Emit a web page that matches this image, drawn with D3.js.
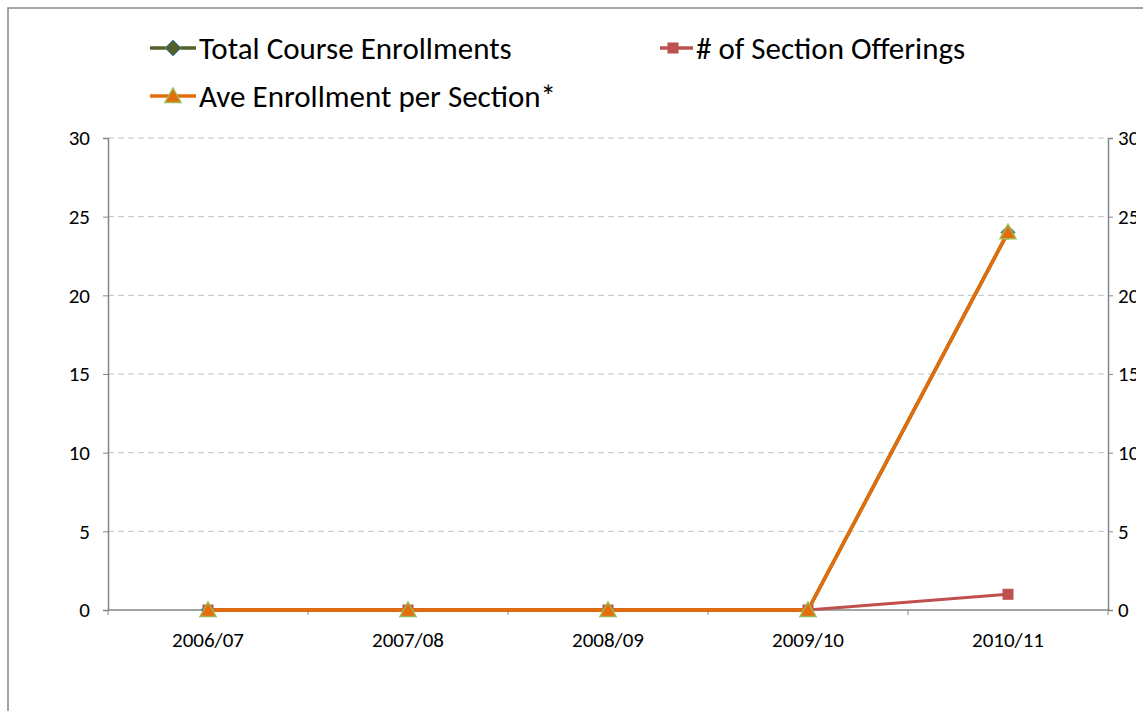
<!DOCTYPE html>
<html><head><meta charset="utf-8">
<script src="https://cdn.jsdelivr.net/npm/d3@7"></script>
<style>body{margin:0;background:#fff}svg{display:block}text{font-family:Carlito,Calibri,Lato,"Open Sans",sans-serif}</style>
</head><body><svg id="c" width="1143" height="711"></svg>
<script>
const categories = ["2006/07","2007/08","2008/09","2009/10","2010/11"];
const totalEnrollments = [0,0,0,0,24];
const sectionOfferings = [0,0,0,0,1];
const aveEnrollment = [0,0,0,0,24];
const yTicks = [0,5,10,15,20,25,30];
const seriesNames = ["Total Course Enrollments","# of Section Offerings","Ave Enrollment per Section*"];

const FONT = "Carlito,Calibri,Lato,'Open Sans',sans-serif";
const svg = d3.select("#c");
const m = {l:108, r:1108, t:138, b:610};
svg.append("defs").append("clipPath").attr("id","rclip").attr("clipPathUnits","userSpaceOnUse").append("rect")
  .attr("x",0).attr("y",0).attr("width",1136).attr("height",711);
svg.append("rect").attr("x",8).attr("y",8).attr("width",1300).attr("height",900)
  .attr("fill","none").attr("stroke","#868686").attr("stroke-width",1.5);

const x = d3.scaleBand().domain(categories).range([m.l,m.r]);
const y = d3.scaleLinear().domain([0,30]).range([m.b,m.t]);
const y2 = d3.scaleLinear().domain([0,30]).range([m.b,m.t]);
const cx = d => x(d)+x.bandwidth()/2;

svg.append("g").selectAll("line").data(yTicks.filter(d=>d>0)).join("line")
  .attr("x1",m.l).attr("x2",m.r).attr("y1",d=>y(d)).attr("y2",d=>y(d))
  .attr("stroke","#c0c0c0").attr("stroke-dasharray","6,4").attr("stroke-width",1);

const gl = svg.append("g").attr("transform",`translate(${m.l},0)`)
  .call(d3.axisLeft(y).tickValues(yTicks).tickSize(5).tickPadding(13));
const gr = svg.append("g").attr("clip-path","url(#rclip)").append("g").attr("transform",`translate(${m.r},0)`)
  .call(d3.axisRight(y2).tickValues(yTicks).tickSize(5).tickPadding(5));
const gb = svg.append("g").attr("transform",`translate(0,${m.b})`)
  .call(d3.axisBottom(x).tickSize(0).tickPadding(0));
gb.selectAll(".tick line").remove();
gb.selectAll(".tick text").attr("y",37).attr("dy",0);
const bt = categories.map(c=>x(c)).concat([m.r]);
gb.selectAll("line.bt").data(bt).join("line").attr("class","bt")
  .attr("x1",d=>d).attr("x2",d=>d).attr("y1",0).attr("y2",5).attr("stroke","#868686");
[gl,gr,gb].forEach(g=>{
  g.attr("font-size",null).attr("font-family",null);
  g.selectAll(".domain").attr("stroke","#868686").attr("stroke-width",1.5);
  g.selectAll(".tick line").attr("stroke","#868686");
  g.selectAll("text").attr("fill","#000").style("font-size","21px").style("font-family",FONT);
});
gb.select(".domain").attr("d",`M${m.l},0H${m.r}`);

const line = d3.line().x((d,i)=>cx(categories[i])).y(d=>y(d));
function diamond(g,px,py,s){g.append("path").attr("d",`M${px},${py-s}L${px+s},${py}L${px},${py+s}L${px-s},${py}Z`)
  .attr("fill","#4f6228").attr("stroke","#4a7ebb").attr("stroke-width",1);}
function square(g,px,py,s){g.append("rect").attr("x",px-s).attr("y",py-s).attr("width",2*s).attr("height",2*s)
  .attr("fill","#c0504d").attr("stroke","#c0504d");}
function tri(g,px,py,s){g.append("path").attr("d",`M${px},${py-s}L${px+s},${py+s*0.8}L${px-s},${py+s*0.8}Z`)
  .attr("fill","#e46c0a").attr("stroke","#9bbb59").attr("stroke-width",1.5);}

const plot = svg.append("g");
plot.append("path").datum(totalEnrollments).attr("d",line).attr("fill","none").attr("stroke","#4f6228").attr("stroke-width",3.5);
totalEnrollments.forEach((v,i)=>diamond(plot,cx(categories[i]),y(v),7));
plot.append("path").datum(sectionOfferings).attr("d",d3.line().x((d,i)=>cx(categories[i])).y(d=>y2(d)))
  .attr("fill","none").attr("stroke","#c0504d").attr("stroke-width",3);
sectionOfferings.forEach((v,i)=>square(plot,cx(categories[i]),y2(v),5));
plot.append("path").datum(aveEnrollment).attr("d",line).attr("fill","none").attr("stroke","#e46c0a").attr("stroke-width",3.5);
aveEnrollment.forEach((v,i)=>tri(plot,cx(categories[i]),y(v),8));

const leg = svg.append("g");
const items = [
  {x:150,y:48,w:46,name:seriesNames[0],m:diamond,c:"#4f6228",mx:173},
  {x:660,y:48,w:33,name:seriesNames[1],m:square,c:"#c0504d",mx:673},
  {x:150,y:96,w:46,name:seriesNames[2],m:tri,c:"#e46c0a",mx:173}
];
items.forEach(it=>{
  leg.append("line").attr("x1",it.x).attr("x2",it.x+it.w).attr("y1",it.y).attr("y2",it.y)
    .attr("stroke",it.c).attr("stroke-width",3.5);
  it.m(leg,it.mx,it.y,it.m===square?5:8);
  leg.append("text").attr("x",it.x+it.w+3).attr("y",it.y+11).text(it.name)
    .style("font-size","31px").style("font-family",FONT).attr("fill","#000");
});
</script></body></html>
